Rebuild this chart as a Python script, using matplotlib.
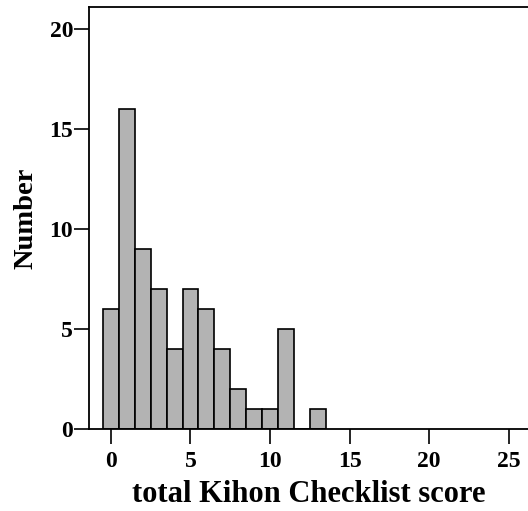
import matplotlib
matplotlib.use("Agg")
import matplotlib.pyplot as plt

# score values and number of subjects per score
scores = [0, 1, 2, 3, 4, 5, 6, 7, 8, 9, 10, 11, 12, 13]
counts = [6, 16, 9, 7, 4, 7, 6, 4, 2, 1, 1, 5, 0, 1]
x_ticks = [0, 5, 10, 15, 20, 25]
y_ticks = [0, 5, 10, 15, 20]

plt.rcParams['font.family'] = ['Liberation Serif', 'DejaVu Serif']
plt.rcParams['font.weight'] = 'bold'

fig = plt.figure(figsize=(5.28, 5.11), dpi=100)
ax = fig.add_axes([89 / 528, 1 - 429 / 511, 1 - 89 / 528, (429 - 7) / 511])

ax.bar(scores, counts, width=1.0, color='#b3b3b3', edgecolor='black', linewidth=1.2, zorder=2)

ax.set_xlim(-1.38, 26.22)
ax.set_ylim(0, 21.1)
ax.set_xticks(x_ticks)
ax.set_yticks(y_ticks)
ax.tick_params(direction='out', length=10.5, width=1.2, labelsize=17)
ax.tick_params(axis='x', pad=5)
ax.tick_params(axis='y', pad=1)
for lbl in ax.get_xticklabels() + ax.get_yticklabels():
    lbl.set_fontweight('bold')

for side in ['left', 'bottom', 'top']:
    ax.spines[side].set_linewidth(1.3)
ax.spines['right'].set_visible(False)

ax.set_xlabel('total Kihon Checklist score', fontsize=22, fontweight='bold', labelpad=6)
ax.set_ylabel('Number', fontsize=20.5, fontweight='bold', labelpad=8)

plt.savefig('out.png', dpi=100)
plt.close()
